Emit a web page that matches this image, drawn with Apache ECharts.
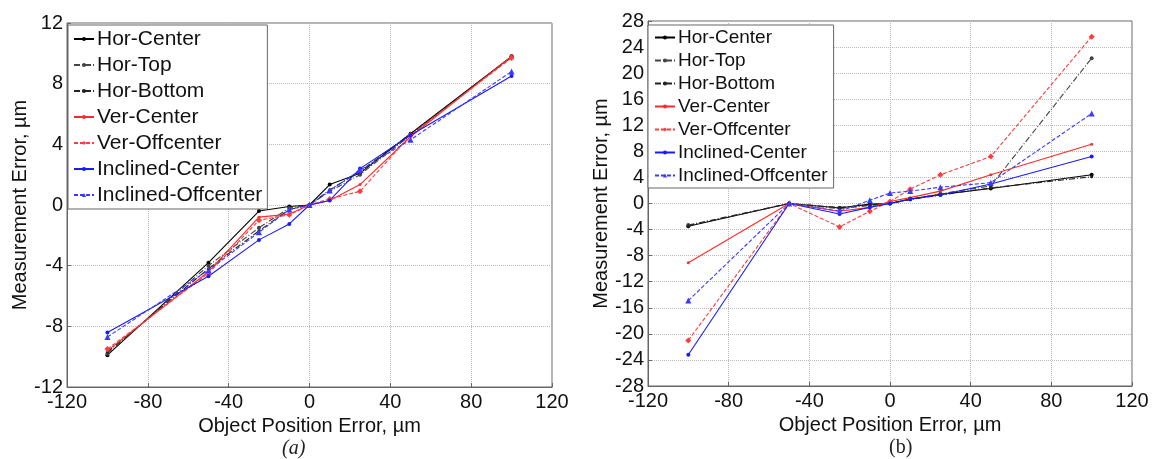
<!DOCTYPE html>
<html>
<head>
<meta charset="utf-8">
<script src="https://cdn.jsdelivr.net/npm/echarts@6/dist/echarts.min.js"></script>
<style>
html,body{margin:0;padding:0;background:#fff;}
#chart{width:1153px;height:459px;}
</style>
</head>
<body>
<div id="chart"></div>
<script>
// ---- data ----
const xValues = [-100, -50, -25, -10, 0, 10, 25, 50, 100];
const seriesNames = ['Hor-Center', 'Hor-Top', 'Hor-Bottom', 'Ver-Center', 'Ver-Offcenter', 'Inclined-Center', 'Inclined-Offcenter'];
const xTicks = [-120, -80, -40, 0, 40, 80, 120];
const yTicksA = [-12, -8, -4, 0, 4, 8, 12];
const yTicksB = [-28, -24, -20, -16, -12, -8, -4, 0, 4, 8, 12, 16, 20, 24, 28];

// panel (a)
const aHorCenter        = [-9.9, -3.8, -0.4, -0.1, 0, 1.35, 2.1, 4.7, 9.8];
const aHorTop           = [-9.8, -4.0, -1.5, -0.2, 0, 0.9, 2.0, 4.6, 9.8];
const aHorBottom        = [-9.7, -4.2, -1.7, -0.3, 0, 1.0, 2.2, 4.7, 9.75];
const aVerCenter        = [-9.6, -4.4, -0.8, -0.6, 0, 0.3, 1.35, 4.5, 9.8];
const aVerOffcenter     = [-9.5, -4.5, -1.0, -0.65, 0, 0.4, 0.9, 4.6, 9.7];
const aInclinedCenter   = [-8.4, -4.7, -2.3, -1.25, 0, 0.3, 2.4, 4.6, 8.5];
const aInclinedOffcenter= [-8.7, -4.3, -1.8, -0.3, 0, 0.95, 2.3, 4.3, 8.8];

// panel (b)
const bHorCenter        = [-3.5, 0, -0.7, -0.1, 0, 0.7, 1.4, 2.3, 4.4];
const bHorTop           = [-3.3, 0, -0.8, -0.3, 0, 0.6, 1.5, 2.7, 22.3];
const bHorBottom        = [-3.4, 0, -0.6, -0.2, 0, 0.6, 1.3, 2.4, 4.1];
const bVerCenter        = [-9.1, 0, -1.2, -0.6, 0.3, 0.9, 1.9, 4.4, 9.1];
const bVerOffcenter     = [-21, 0, -3.6, -1.2, 0.3, 2.2, 4.4, 7.2, 25.6];
const bInclinedCenter   = [-23.2, 0, -1.6, -0.6, 0, 0.7, 1.3, 3.0, 7.2];
const bInclinedOffcenter= [-14.9, 0, -1.2, 0.5, 1.6, 1.9, 2.5, 3.2, 13.8];

const panelA = [aHorCenter, aHorTop, aHorBottom, aVerCenter, aVerOffcenter, aInclinedCenter, aInclinedOffcenter];
const panelB = [bHorCenter, bHorTop, bHorBottom, bVerCenter, bVerOffcenter, bInclinedCenter, bInclinedOffcenter];

// ---- styles ----
const FONT = "'Liberation Sans', Arial, sans-serif";
const styles = [
  {color:'#000000', type:'solid', symbol:'circle', size:4},
  {color:'#444444', type:[6,2,1,2], symbol:'circle', size:4},
  {color:'#222222', type:[6,2,1,2], symbol:'circle', size:3},
  {color:'#ff2a2a', type:'solid', symbol:'circle', size:3},
  {color:'#ff3b3b', type:[4,2], symbol:'diamond', size:6},
  {color:'#1a1aff', type:'solid', symbol:'circle', size:4},
  {color:'#3a3aff', type:[4,2], symbol:'triangle', size:6}
];

function makeSeries(panel, gi) {
  return panel.map((vals, k) => ({
    name: seriesNames[k],
    type: 'line',
    xAxisIndex: gi, yAxisIndex: gi,
    data: xValues.map((x, i) => [x, vals[i]]),
    symbol: styles[k].symbol,
    symbolSize: styles[k].size,
    showAllSymbol: true,
    lineStyle: {color: styles[k].color, width: 1.1, type: styles[k].type},
    itemStyle: {color: styles[k].color},
    emphasis: {disabled: true},
    animation: false,
    z: 2
  }));
}

function xAxisCfg(gi) {
  return {
    type: 'value', gridIndex: gi, min: -120, max: 120, interval: 40,
    name: 'Object Position Error, \u00b5m', nameLocation: 'middle', nameGap: 21,
    nameTextStyle: {fontFamily: FONT, fontSize: 20, color: '#111'},
    axisLine: {show: true, onZero: false, lineStyle: {color: '#666'}},
    axisTick: {show: true, inside: true, length: 4, lineStyle: {color: '#666'}},
    axisLabel: {fontFamily: FONT, fontSize: 20, color: '#111', margin: 5,
      formatter: v => xTicks.includes(v) ? String(v) : ''},
    splitLine: {show: true, lineStyle: {color: '#bbbbbb', type: [1,1], width: 1}}
  };
}
function yAxisCfg(gi, lim, ticks, gap) {
  return {
    type: 'value', gridIndex: gi, min: -lim, max: lim, interval: 4,
    name: 'Measurement Error, \u00b5m', nameLocation: 'middle', nameGap: gap,
    nameTextStyle: {fontFamily: FONT, fontSize: 20, color: '#111'},
    axisLine: {show: true, onZero: false, lineStyle: {color: '#666'}},
    axisTick: {show: true, inside: true, length: 4, lineStyle: {color: '#666'}},
    axisLabel: {fontFamily: FONT, fontSize: 20, color: '#111', margin: 4,
      formatter: v => ticks.includes(v) ? String(v) : ''},
    splitLine: {show: true, lineStyle: {color: '#bbbbbb', type: [1,1], width: 1}}
  };
}

const chart = echarts.init(document.getElementById('chart'), null, {renderer: 'canvas'});
chart.setOption({
  backgroundColor: '#ffffff',
  animation: false,
  grid: [
    {left: 67, top: 23, width: 485, height: 364, show: true, borderColor: '#666', borderWidth: 1, backgroundColor: 'transparent'},
    {left: 648, top: 21, width: 484, height: 365, show: true, borderColor: '#666', borderWidth: 1, backgroundColor: 'transparent'}
  ],
  xAxis: [xAxisCfg(0), xAxisCfg(1)],
  yAxis: [yAxisCfg(0, 12, yTicksA, 36), yAxisCfg(1, 28, yTicksB, 36)],
  legend: [
    {
      data: seriesNames, orient: 'vertical', left: 68, top: 25,
      backgroundColor: '#fff', borderColor: '#666', borderWidth: 1,
      padding: [3, 5, 3, 5], itemWidth: 20, itemHeight: 5, itemGap: 4,
      textStyle: {fontFamily: FONT, fontSize: 21, color: '#111', lineHeight: 22, padding: [0,0,0,-2]},
      selectedMode: false, z: 5
    },
    {
      data: seriesNames, orient: 'vertical', left: 648, top: 25,
      backgroundColor: '#fff', borderColor: '#666', borderWidth: 1,
      padding: [2, 6, 2, 6], itemWidth: 20, itemHeight: 5, itemGap: 2,
      textStyle: {fontFamily: FONT, fontSize: 19, color: '#111', lineHeight: 21, padding: [0,0,0,-2]},
      selectedMode: false, z: 5
    }
  ],
  graphic: [
    {type: 'text', left: 282, top: 439, style: {text: '(a)', font: "italic 20px 'Liberation Serif', 'Times New Roman', serif", fill: '#222'}},
    {type: 'text', left: 889, top: 438, style: {text: '(b)', font: "20px 'Liberation Serif', 'Times New Roman', serif", fill: '#222'}}
  ],
  series: [...makeSeries(panelA, 0), ...makeSeries(panelB, 1)]
});
</script>
</body>
</html>
